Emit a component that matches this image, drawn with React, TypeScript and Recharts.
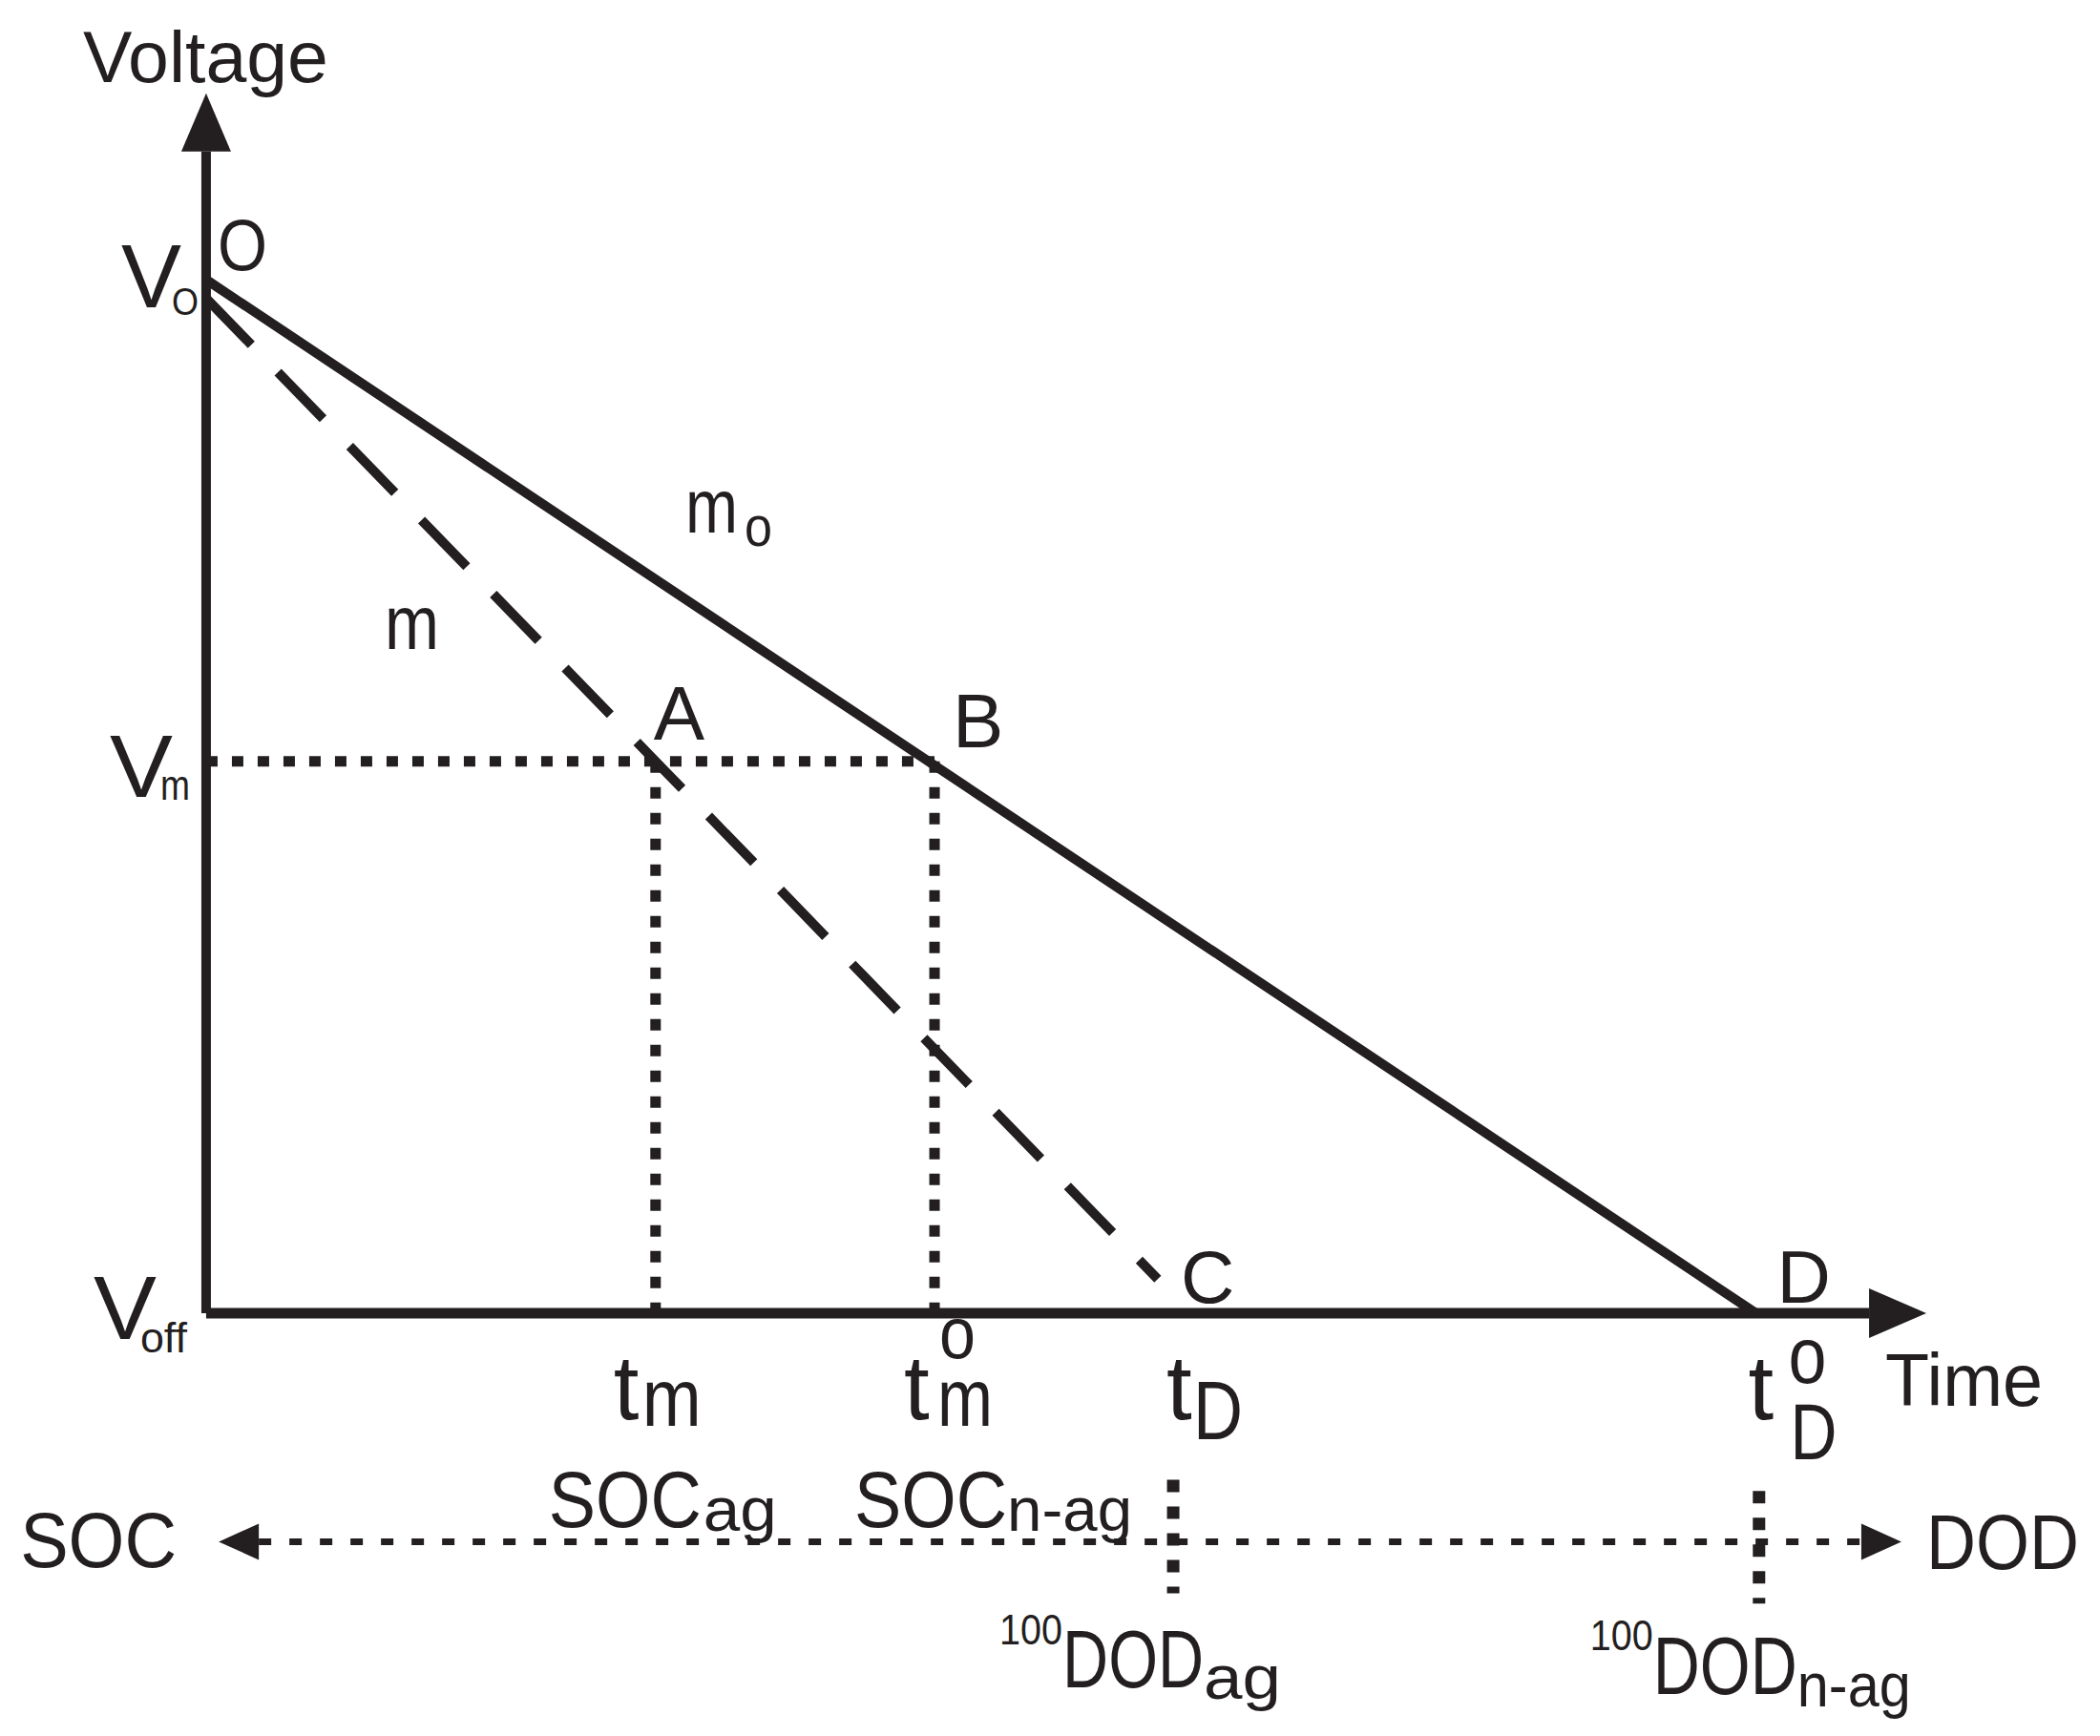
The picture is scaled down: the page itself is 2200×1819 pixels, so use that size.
import React from "react";
import { LineChart, Line, XAxis, YAxis, ReferenceDot } from "recharts";

// time axis (t^o_D = 100) and voltage axis (V_O = 100, V_off = 0)
const T_M = 29;
const T_M_O = 47;
const T_D = 63.2;
const T_D_O = 100;
const TIME_END = 107.3;

const V_O = 100;
const V_O_AGED = 98.2;
const V_M = 53.4;
const V_OFF = 0;
const VOLT_END = 112.4;

// SOC / DOD scale row under the time axis
const SCALE_ROW = -22.1;
const SOC_START = 3.4;
const DOD_END = 106.8;
const TICK_AG = { t: 62.4, top: -16.1, bottom: -27.1 };
const TICK_NAG = { t: 100.2, top: -17.2, bottom: -28.1 };

const newCell = [
  { t: 0, v: V_O },
  { t: T_D_O, v: V_OFF },
];
const agedCell = [
  { t: 0, v: V_O_AGED },
  { t: T_M, v: V_M },
  { t: 61.4, v: 3.3 },
];
const vmLine = [
  { t: 0, v: V_M },
  { t: T_M_O, v: V_M },
];
const tmLine = [
  { t: T_M, v: V_M },
  { t: T_M, v: V_OFF },
];
const tmoLine = [
  { t: T_M_O, v: V_M },
  { t: T_M_O, v: V_OFF },
];
const timeAxis = [
  { t: 0, v: V_OFF },
  { t: TIME_END, v: V_OFF },
];
const voltAxis = [
  { t: 0, v: V_OFF },
  { t: 0, v: VOLT_END },
];
const scaleRow = [
  { t: SOC_START, v: SCALE_ROW },
  { t: DOD_END, v: SCALE_ROW },
];
const tickAg = [
  { t: TICK_AG.t, v: TICK_AG.top },
  { t: TICK_AG.t, v: TICK_AG.bottom },
];
const tickNag = [
  { t: TICK_NAG.t, v: TICK_NAG.top },
  { t: TICK_NAG.t, v: TICK_NAG.bottom },
];

const INK = "#231f20";
const FONT = "'Liberation Sans', Arial, Helvetica, sans-serif";

type Part = { s: string; dx: number; dy: number; size: number; w?: number };

const tag = (key: string, x: number, y: number, parts: Part[]) => (
  <ReferenceDot
    key={key}
    x={x}
    y={y}
    r={0}
    ifOverflow="visible"
    shape={(p: any) => (
      <g>
        {parts.map((pt, i) => (
          <text
            key={i}
            x={p.cx + pt.dx}
            y={p.cy + pt.dy}
            fontSize={pt.size}
            fontFamily={FONT}
            fill={INK}
            textLength={pt.w}
            lengthAdjust={pt.w ? "spacingAndGlyphs" : undefined}
          >
            {pt.s}
          </text>
        ))}
      </g>
    )}
  />
);

const arrowEnd = (dir: "right" | "up", len: number, half: number) => (props: any) => {
  const { cx, cy, index } = props;
  if (index !== 1) return <g key={`a-${index}`} />;
  const d =
    dir === "right"
      ? `M${cx},${cy - half} L${cx + len},${cy} L${cx},${cy + half} Z`
      : `M${cx - half},${cy} L${cx},${cy - len} L${cx + half},${cy} Z`;
  return <path key={`a-${index}`} d={d} fill={INK} />;
};

const doubleArrow = (props: any) => {
  const { cx, cy, index } = props;
  const d =
    index === 0
      ? `M${cx},${cy - 19} L${cx - 42},${cy} L${cx},${cy + 19} Z`
      : `M${cx},${cy - 19} L${cx + 42},${cy} L${cx},${cy + 19} Z`;
  return <path key={`d-${index}`} d={d} fill={INK} />;
};

export default function App() {
  return (
    <div style={{ position: "absolute", left: 0, top: 0, background: "#fff" }}>
      <LineChart width={2200} height={1819} margin={{ top: 0, right: 0, bottom: 0, left: 0 }}>
        <XAxis type="number" dataKey="t" domain={[-13.3, 122.2]} allowDataOverflow hide />
        <YAxis type="number" dataKey="v" domain={[-40.9, 127.05]} allowDataOverflow hide />

        <Line data={vmLine} dataKey="v" stroke={INK} strokeWidth={11} strokeDasharray="12 15" dot={false} activeDot={false} isAnimationActive={false} />
        <Line data={tmLine} dataKey="v" stroke={INK} strokeWidth={11} strokeDasharray="12 15" dot={false} activeDot={false} isAnimationActive={false} />
        <Line data={tmoLine} dataKey="v" stroke={INK} strokeWidth={11} strokeDasharray="12 15" dot={false} activeDot={false} isAnimationActive={false} />
        <Line data={agedCell} dataKey="v" stroke={INK} strokeWidth={10} strokeDasharray="68 40" dot={false} activeDot={false} isAnimationActive={false} />
        <Line data={newCell} dataKey="v" stroke={INK} strokeWidth={10} dot={false} activeDot={false} isAnimationActive={false} />
        <Line data={timeAxis} dataKey="v" stroke={INK} strokeWidth={11} dot={arrowEnd("right", 60, 26)} activeDot={false} isAnimationActive={false} />
        <Line data={voltAxis} dataKey="v" stroke={INK} strokeWidth={10} dot={arrowEnd("up", 61, 26)} activeDot={false} isAnimationActive={false} />
        <Line data={scaleRow} dataKey="v" stroke={INK} strokeWidth={7} strokeDasharray="13 19" dot={doubleArrow} activeDot={false} isAnimationActive={false} />
        <Line data={tickAg} dataKey="v" stroke={INK} strokeWidth={13} strokeDasharray="13 15" dot={false} activeDot={false} isAnimationActive={false} />
        <Line data={tickNag} dataKey="v" stroke={INK} strokeWidth={13} strokeDasharray="13 15" dot={false} activeDot={false} isAnimationActive={false} />

        {tag("voltage", 0, VOLT_END, [{ s: "Voltage", dx: -129, dy: -73, size: 76, w: 257 }])}
        {tag("o", 0, V_O, [
          { s: "O", dx: 12, dy: -10, size: 76, w: 52 },
          { s: "V", dx: -89, dy: 29, size: 95, w: 63 },
          { s: "O", dx: -36, dy: 37, size: 40, w: 28 },
          { s: "m", dx: 502, dy: 265, size: 80, w: 55 },
          { s: "o", dx: 564, dy: 279, size: 60, w: 29 },
          { s: "m", dx: 187, dy: 387, size: 80, w: 57 },
        ])}
        {tag("a", T_M, V_M, [{ s: "A", dx: -2, dy: -23, size: 80 }])}
        {tag("b", T_M_O, V_M, [{ s: "B", dx: 19, dy: -15, size: 80 }])}
        {tag("c", T_D, V_OFF, [{ s: "C", dx: -5, dy: -11, size: 78 }])}
        {tag("d", T_D_O, V_OFF, [
          { s: "D", dx: 22, dy: -11, size: 78 },
          { s: "t", dx: -8, dy: 111, size: 96 },
          { s: "o", dx: 34, dy: 73, size: 84, w: 40 },
          { s: "D", dx: 36, dy: 153, size: 84, w: 49 },
        ])}
        {tag("vm", 0, V_M, [
          { s: "V", dx: -101, dy: 37, size: 92, w: 66 },
          { s: "m", dx: -48, dy: 40, size: 44, w: 31 },
        ])}
        {tag("voff", 0, V_OFF, [
          { s: "V", dx: -118, dy: 27, size: 95, w: 66 },
          { s: "off", dx: -69, dy: 41, size: 44, w: 49 },
        ])}
        {tag("tm", T_M, V_OFF, [
          { s: "t", dx: -44, dy: 111, size: 96 },
          { s: "m", dx: -14, dy: 118, size: 86, w: 62 },
          { s: "SOC", dx: -112, dy: 224, size: 84, w: 160 },
          { s: "ag", dx: 50, dy: 228, size: 64, w: 77 },
        ])}
        {tag("tmo", T_M_O, V_OFF, [
          { s: "t", dx: -32, dy: 111, size: 96 },
          { s: "o", dx: 5, dy: 47, size: 76, w: 38 },
          { s: "m", dx: 3, dy: 118, size: 86, w: 58 },
          { s: "SOC", dx: -84, dy: 224, size: 84, w: 160 },
          { s: "n-ag", dx: 76, dy: 228, size: 64, w: 131 },
        ])}
        {tag("td", T_D, V_OFF, [
          { s: "t", dx: -20, dy: 111, size: 96 },
          { s: "D", dx: 8, dy: 132, size: 88, w: 52 },
        ])}
        {tag("time", TIME_END, V_OFF, [{ s: "Time", dx: 17, dy: 97, size: 78, w: 165 }])}
        {tag("soc", SOC_START, SCALE_ROW, [{ s: "SOC", dx: -250, dy: 27, size: 82, w: 164 }])}
        {tag("dod", DOD_END, SCALE_ROW, [{ s: "DOD", dx: 68, dy: 29, size: 82, w: 160 }])}
        {tag("dodag", TICK_AG.t, TICK_AG.bottom, [
          { s: "100", dx: -182, dy: 53, size: 44, w: 66 },
          { s: "DOD", dx: -116, dy: 98, size: 86, w: 148 },
          { s: "ag", dx: 32, dy: 110, size: 64, w: 81 },
        ])}
        {tag("dodnag", TICK_NAG.t, TICK_NAG.bottom, [
          { s: "100", dx: -177, dy: 49, size: 44, w: 66 },
          { s: "DOD", dx: -111, dy: 95, size: 86, w: 151 },
          { s: "n-ag", dx: 40, dy: 108, size: 64, w: 119 },
        ])}
      </LineChart>
    </div>
  );
}
